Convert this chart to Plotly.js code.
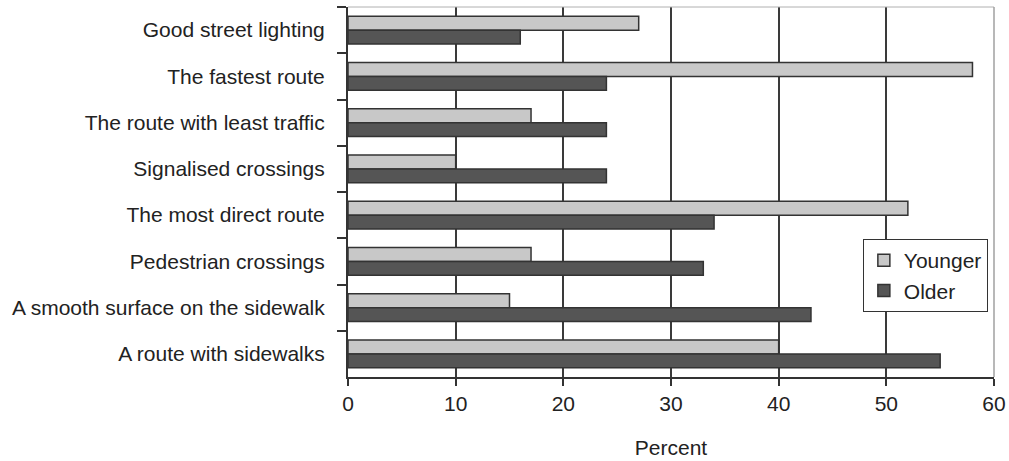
<!DOCTYPE html>
<html>
<head>
<meta charset="utf-8">
<script src="https://cdn.plot.ly/plotly-3.0.1.min.js"></script>
<style>html,body{margin:0;padding:0;background:#fff;}#chart{width:1009px;height:461px;}</style>
</head>
<body>
<div id="chart"></div>
<script>
const categories = [
  "Good street lighting",
  "The fastest route",
  "The route with least traffic",
  "Signalised crossings",
  "The most direct route",
  "Pedestrian crossings",
  "A smooth surface on the sidewalk",
  "A route with sidewalks"
];
const younger = [27, 58, 17, 10, 52, 17, 15, 40];
const older = [16, 24, 24, 24, 34, 33, 43, 55];
const xTicks = [0, 10, 20, 30, 40, 50, 60];

const FONT = "'Liberation Sans', Arial, Helvetica, sans-serif";
const traces = [
  {type: 'bar', orientation: 'h', name: 'Younger', y: categories, x: younger,
   marker: {color: '#c8c8c8', line: {color: '#333333', width: 1.5}}},
  {type: 'bar', orientation: 'h', name: 'Older', y: categories, x: older,
   marker: {color: '#555555', line: {color: '#333333', width: 1.5}}}
];
const layout = {
  width: 1009, height: 461,
  margin: {l: 348, r: 15, t: 7, b: 84, pad: 0},
  paper_bgcolor: '#ffffff', plot_bgcolor: '#ffffff',
  font: {family: FONT, size: 21, color: '#222222'},
  barmode: 'group', bargap: 0.395, bargroupgap: 0,
  showlegend: true,
  legend: {x: 0.797, y: 0.373, xanchor: 'left', yanchor: 'top',
    bordercolor: '#333333', borderwidth: 1, bgcolor: '#ffffff',
    font: {family: FONT, size: 21, color: '#222222'}, traceorder: 'normal',
    itemwidth: 30, tracegroupgap: 0},
  xaxis: {range: [0, 60], tickvals: xTicks, ticktext: xTicks.map(String),
    showgrid: true, gridcolor: '#3a3a3a', gridwidth: 2,
    zeroline: false, showline: true, linecolor: '#333333', linewidth: 2,
    ticks: 'outside', ticklen: 7, tickcolor: '#333333', tickwidth: 2,
    tickfont: {family: FONT, size: 21, color: '#222222'},
    title: {text: 'Percent', font: {family: FONT, size: 21, color: '#222222'}, standoff: 26},
    fixedrange: true},
  yaxis: {type: 'category', autorange: 'reversed', tickson: 'boundaries',
    showgrid: false, zeroline: false, showline: true, linecolor: '#333333', linewidth: 2,
    ticks: 'outside', ticklen: 9, tickcolor: '#333333', tickwidth: 2,
    tickfont: {family: FONT, size: 21, color: '#222222'}, ticklabelstandoff: 17,
    fixedrange: true},
  shapes: [
    {type: 'line', xref: 'paper', yref: 'paper', x0: 0, x1: 1, y0: 1, y1: 1, line: {color: '#b0b0b0', width: 1}},
    {type: 'line', xref: 'paper', yref: 'paper', x0: 1, x1: 1, y0: 0, y1: 1, line: {color: '#a0a0a0', width: 1.5}}
  ]
};
Plotly.newPlot('chart', traces, layout, {displayModeBar: false, staticPlot: true});
</script>
</body>
</html>
